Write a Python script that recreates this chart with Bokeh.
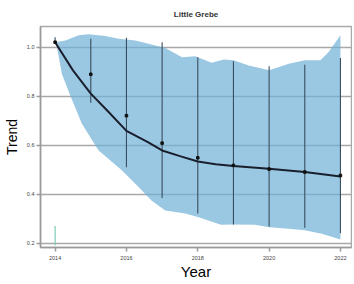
from bokeh.plotting import figure
from bokeh.models import Range1d, FixedTicker
from bokeh.embed import file_html
from bokeh.resources import INLINE

chart_title = "Little Grebe"
x_title = "Year"
y_title = "Trend"

years = [2014, 2015, 2016, 2017, 2018, 2019, 2020, 2021, 2022]
index_values = [1.02, 0.889, 0.72, 0.608, 0.548, 0.517, 0.502, 0.49, 0.476]
err_low = [1.02, 0.773, 0.51, 0.384, 0.321, 0.276, 0.268, 0.263, 0.24]
err_high = [1.04, 1.034, 1.038, 1.02, 0.959, 0.942, 0.922, 0.928, 0.955]

band_upper_x = [2014.0, 2014.29, 2014.66, 2014.94, 2015.41, 2015.78, 2016.25, 2016.62,
                2017.09, 2017.56, 2017.93, 2018.39, 2018.73, 2019.0, 2019.43, 2020.0,
                2020.55, 2021.0, 2021.44, 2021.67, 2022.0]
band_upper_y = [1.02, 1.027, 1.048, 1.052, 1.045, 1.034, 1.027, 1.014,
                0.996, 0.959, 0.963, 0.936, 0.949, 0.946, 0.925, 0.905,
                0.932, 0.946, 0.946, 0.98, 1.048]
band_lower_x = [2014.0, 2014.05, 2014.19, 2014.43, 2014.75, 2015.22, 2015.87, 2016.34,
                2016.7, 2017.09, 2017.65, 2018.02, 2018.65, 2019.0, 2019.6, 2020.0,
                2020.55, 2021.0, 2021.48, 2022.0]
band_lower_y = [1.02, 1.0, 0.89, 0.80, 0.687, 0.578, 0.497, 0.429,
                0.374, 0.333, 0.321, 0.305, 0.275, 0.276, 0.275, 0.265,
                0.259, 0.252, 0.238, 0.215]

curve_x = [2014.0, 2014.5, 2015.0, 2015.5, 2016.0, 2016.6, 2017.0, 2017.5, 2018.0,
           2018.5, 2019.0, 2020.0, 2021.0, 2022.0]
curve_y = [1.02, 0.905, 0.81, 0.735, 0.658, 0.612, 0.578, 0.555, 0.533,
           0.522, 0.515, 0.503, 0.49, 0.472]

marker_year = [2014]
marker_low = [0.19]
marker_high = [0.27]

x_ticks = [2014, 2016, 2018, 2020, 2022]
x_tick_labels = ["2014", "2016", "2018", "2020", "2022"]
y_ticks = [0.2, 0.4, 0.6, 0.8, 1.0]
y_tick_labels = ["0.2", "0.4", "0.6", "0.8", "1.0"]

FONT = "Liberation Sans"

p = figure(frame_width=311, frame_height=221, output_backend="svg", toolbar_location=None,
           x_range=Range1d(2013.59, 2022.31), y_range=Range1d(0.182, 1.084),
           min_border_left=34, min_border_right=1, min_border_top=26, min_border_bottom=37)

p.title.text = chart_title
p.title.text_font = FONT
p.title.text_font_size = "8px"
p.title.text_font_style = "bold"
p.title.text_color = "#333333"
p.title.align = "center"
p.title.standoff = 15

p.patch(band_upper_x + band_lower_x[::-1], band_upper_y + band_lower_y[::-1],
        fill_color="#6fb0d6", fill_alpha=0.7, line_color=None)

p.segment(x0=years, y0=err_low, x1=years, y1=err_high,
          line_color="#3a4e5e", line_width=1.1)
p.segment(x0=marker_year, y0=marker_low, x1=marker_year, y1=marker_high,
          line_color="#7fcbb8", line_width=1.2)

p.line(curve_x, curve_y, line_color="#1a1f2e", line_width=2)
p.scatter(years, index_values, marker="square", size=2.5, color="#111111")

p.xgrid.grid_line_color = None
p.ygrid.grid_line_color = "#a8a8a8"
p.ygrid.grid_line_width = 1.5
p.ygrid.ticker = FixedTicker(ticks=y_ticks)

p.xaxis.ticker = FixedTicker(ticks=x_ticks)
p.yaxis.ticker = FixedTicker(ticks=y_ticks)
p.xaxis.major_label_overrides = dict(zip(x_ticks, x_tick_labels))
p.yaxis.major_label_overrides = dict(zip(y_ticks, y_tick_labels))

for ax in (p.xaxis, p.yaxis):
    ax.axis_line_color = "#9a9a9a"
    ax.axis_line_width = 1.5
    ax.major_tick_line_color = "#9a9a9a"
    ax.major_tick_line_width = 1.5
    ax.major_tick_out = 4
    ax.major_tick_in = 0
    ax.minor_tick_line_color = None
    ax.major_label_text_font = FONT
    ax.major_label_text_font_size = "5.5px"
    ax.major_label_text_color = "#444444"
    ax.axis_label_text_font = FONT
    ax.axis_label_text_font_style = "normal"
    ax.axis_label_text_color = "#000000"

p.yaxis.major_label_standoff = 2
p.xaxis.major_label_standoff = 4
p.xaxis.axis_label = x_title
p.yaxis.axis_label = y_title
p.xaxis.axis_label_text_font_size = "15px"
p.yaxis.axis_label_text_font_size = "14px"
p.xaxis.axis_label_standoff = 0
p.yaxis.axis_label_standoff = 4

p.outline_line_color = "#aaaaaa"
p.outline_line_width = 1.5

open("out.html", "w").write(file_html(p, INLINE))
